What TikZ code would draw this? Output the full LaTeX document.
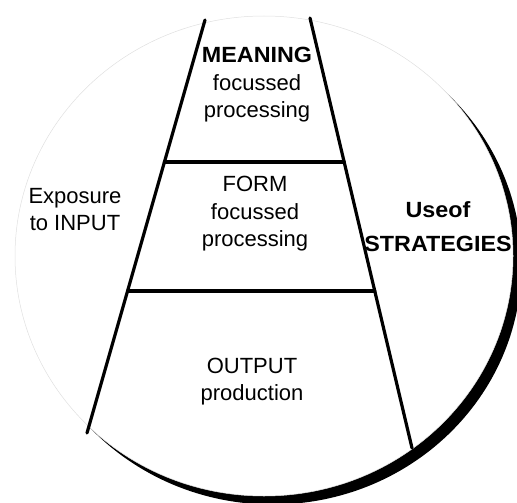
\documentclass[tikz,border=0pt]{standalone}
\usepackage{fontspec}
\setmainfont{Liberation Sans}
\newfontfamily\widebold[FakeStretch=1.06]{Liberation Sans Bold}
\begin{document}
\begin{tikzpicture}[x=1pt,y=-1pt,
  edge/.style={line width=3.2pt, line cap=round},
  lbl/.style={font=\fontsize{22}{27.5}\selectfont, align=center, inner sep=0pt}]
\useasboundingbox (0,0) rectangle (517,503);
\begin{scope}
  \clip (0,0) rectangle (517,503);
  \fill[black] (272.5,264.5) ellipse [x radius=249pt, y radius=240pt];
  \fill[white] (264,256) ellipse [x radius=249pt, y radius=240pt];
  \draw[black!12, line width=0.5pt] (264,256) ellipse [x radius=249pt, y radius=240pt];
\end{scope}
\coordinate (LT) at (205,20);
\coordinate (LB) at (87,433);
\coordinate (RT) at (310,18);
\coordinate (RB) at (412,448);
\coordinate (L1) at (164.4,162);
\coordinate (R1) at (344.2,162);
\coordinate (L2) at (127.6,291);
\coordinate (R2) at (374.8,291);
\draw[edge] (LT) -- (LB);
\draw[edge] (RT) -- (RB);
\draw[edge] (L1) -- (R1);
\draw[edge] (L2) -- (R2);
\node[lbl] (meaning) at (257,85) {{\widebold MEANING}\\focussed\\processing};
\node[lbl] (form) at (255,214) {FORM\\focussed\\processing};
\node[lbl] (output) at (252,381.5) {OUTPUT\\production};
\node[lbl] (input) at (75,209.5) {Exposure\\to INPUT};
\node[lbl, font=\widebold\fontsize{22}{33.4}\selectfont] (strat) at (438,226.7) {Useof\\STRATEGIES};
\end{tikzpicture}
\end{document}
